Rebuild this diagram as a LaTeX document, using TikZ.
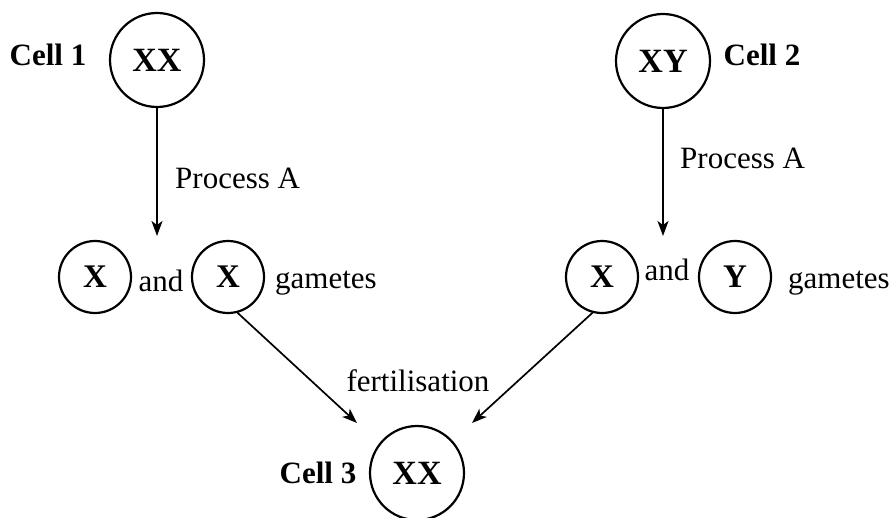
\documentclass[tikz,border=0pt]{standalone}
\usepackage{fontspec}
\setmainfont{Liberation Serif}
\usetikzlibrary{arrows.meta}
\begin{document}
\begin{tikzpicture}[x=1pt,y=-1pt,
  cell/.style={circle,draw,line width=2.2pt,minimum size=94pt,inner sep=0pt,font=\fontsize{34}{40}\selectfont\bfseries},
  gam/.style={circle,draw,line width=2.2pt,minimum size=72pt,inner sep=0pt,font=\fontsize{33}{39}\selectfont\bfseries},
  lbl/.style={font=\fontsize{31}{37}\selectfont,inner sep=0pt},
  blbl/.style={font=\fontsize{31}{37}\selectfont\bfseries,inner sep=0pt},
  arr/.style={line width=1.7pt,-{Stealth[length=15pt,width=11pt,inset=4pt]}}]
\useasboundingbox (0,0) rectangle (890,518);
% cells
\node[cell] (c1) at (157,60) {XX};
\node[cell] (c2) at (663,61) {XY};
\node[cell] (c3) at (417,473) {XX};
\node[blbl] (l1) at (48,55) {Cell 1};
\node[blbl] (l2) at (762,55) {Cell 2};
\node[blbl] (l3) at (318,473) {Cell 3};
% gametes
\node[gam] (g1) at (95,277) {X};
\node[gam] (g2) at (228,277) {X};
\node[gam] (g3) at (602,277) {X};
\node[gam] (g4) at (735,277) {Y};
\node[lbl] (a1) at (161,281) {and};
\node[lbl] (a2) at (667,270) {and};
\node[lbl,anchor=west] (gm1) at (275,283) {gametes};
\node[lbl,anchor=west] (gm2) at (788,283) {gametes};
% labels
\node[lbl,anchor=west] (p1) at (175,178) {Process A};
\node[lbl,anchor=west] (p2) at (680,158) {Process A};
\node[lbl] (f) at (418,381) {fertilisation};
% arrow ends
\coordinate (t1) at (157,236);
\coordinate (t2) at (663,236);
\coordinate (t3) at (357,423);
\coordinate (t4) at (472,423);
\draw[arr] (c1.south) -- (t1);
\draw[arr] (c2.south) -- (t2);
\draw[arr] (g2.-75) -- (t3);
\draw[arr] (g3.-105) -- (t4);
\end{tikzpicture}
\end{document}
